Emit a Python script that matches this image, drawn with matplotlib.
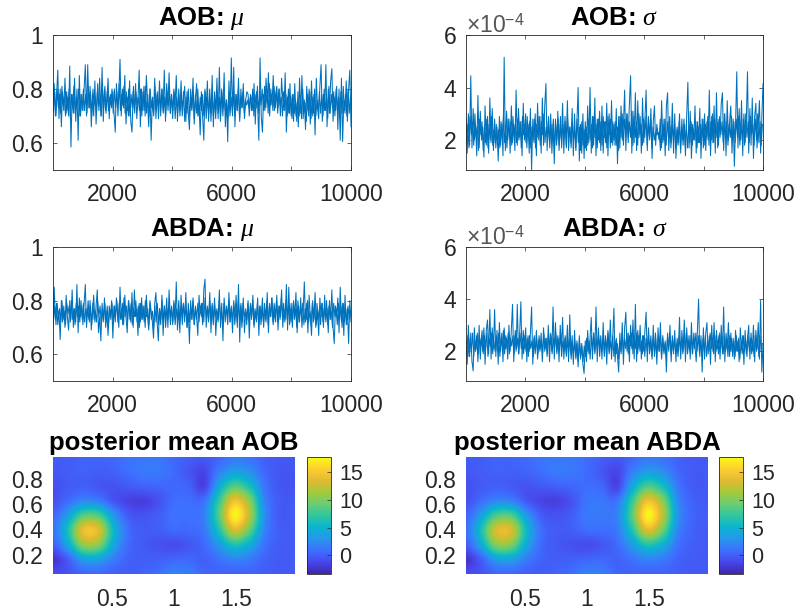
import matplotlib
matplotlib.use("Agg")
import matplotlib.pyplot as plt
import numpy as np
from matplotlib.colors import LinearSegmentedColormap

plt.rcParams["font.family"] = "Liberation Sans"
plt.rcParams["mathtext.fontset"] = "custom"
plt.rcParams["mathtext.rm"] = "Liberation Sans"
plt.rcParams["mathtext.it"] = "Liberation Serif:italic"

W, H = 797, 613

# outer swings of each trace (spikes)
aob_mu = [
    .74,.82,.70,.78,.87,.69,.80,.66,.79,.72,.84,.71,.77,.70,.885,.585,.78,.71,.84,.68,.80,.61,.85,.70,.78,
    .72,.80,.89,.70,.89,.73,.81,.66,.78,.70,.83,.67,.79,.74,.84,.70,.88,.68,.80,.72,.76,.84,.69,.78,.73,
    .79,.71,.64,.82,.74,.78,.91,.70,.80,.73,.85,.67,.77,.70,.83,.68,.64,.79,.72,.82,.69,.76,.87,.66,.80,
    .72,.81,.70,.85,.75,.66,.80,.61,.76,.71,.84,.69,.78,.73,.83,.70,.80,.72,.87,.68,.82,.74,.86,.71,.78,
    .69,.80,.74,.85,.68,.78,.72,.83,.70,.76,.81,.68,.79,.71,.65,.80,.73,.84,.67,.76,.82,.70,.74,.63,.79,
    .70,.61,.80,.73,.83,.68,.77,.71,.85,.66,.79,.72,.84,.69,.88,.70,.79,.73,.86,.66,.76,.605,.83,.72,.915,
    .70,.88,.66,.78,.72,.84,.68,.80,.73,.82,.69,.76,.79,.78,.70,.78,.76,.72,.82,.67,.79,.74,.61,.915,.70,
    .64,.78,.72,.84,.75,.86,.70,.80,.74,.85,.72,.78,.81,.73,.80,.70,.84,.76,.72,.86,.64,.77,.71,.82,.70,
    .78,.68,.82,.70,.75,.66,.84,.71,.85,.69,.76,.65,.81,.72,.80,.67,.83,.70,.78,.63,.84,.73,.69,.81,.89,
    .68,.78,.72,.89,.66,.80,.71,.83,.875,.68,.77,.72,.81,.65,.80,.61,.84,.605,.76,.71,.83,.68,.80,.87,.66,
]

# sigma traces are in units of 1e-4
aob_sigma = [
    2.8,1.5,3.0,1.8,4.45,1.7,3.2,2.0,2.6,1.4,3.7,1.7,3.1,2.0,2.5,1.35,3.3,1.8,2.9,1.5,3.6,1.9,3.2,1.6,2.8,
    1.7,2.5,1.2,2.9,1.8,2.6,1.4,5.15,1.6,3.1,2.0,2.8,1.5,3.3,1.9,2.6,1.6,3.9,1.8,3.2,2.1,2.7,1.4,3.4,2.0,
    3.0,1.7,2.6,1.5,3.2,.86,2.8,1.9,3.0,1.4,3.4,2.0,2.9,1.5,3.6,1.8,3.3,4.15,1.6,2.7,1.9,3.0,1.5,2.6,1.1,
    2.8,1.8,3.1,1.6,2.6,2.0,3.4,1.5,2.9,1.8,3.5,1.6,2.5,1.9,3.2,1.4,3.0,1.7,2.7,4.0,1.2,2.6,1.5,3.0,1.3,
    2.7,1.6,3.3,1.9,4.0,1.5,2.9,1.8,3.6,1.4,2.8,2.0,3.1,1.6,3.3,1.5,2.7,1.9,3.4,1.4,3.0,1.7,3.5,1.8,2.6,
    1.8,3.2,1.1,2.9,1.7,3.3,2.0,2.6,3.9,1.6,3.0,2.1,3.4,4.45,1.5,3.1,1.9,3.8,1.6,3.5,2.1,2.9,1.5,3.6,1.9,
    2.8,3.9,1.6,2.9,2.0,3.2,1.3,2.7,3.3,1.8,2.6,2.2,2.3,1.6,3.5,1.9,2.8,1.4,3.3,3.8,1.6,2.5,1.9,3.4,1.5,
    3.0,1.3,2.5,1.9,3.0,1.5,2.8,1.8,2.6,1.4,2.9,4.2,1.7,3.1,1.3,2.6,2.0,3.3,1.5,2.7,1.9,3.2,1.3,2.8,1.7,
    3.0,1.6,2.7,2.0,3.9,1.4,2.9,1.9,3.3,1.5,3.8,1.7,2.8,2.1,3.4,3.8,1.6,3.0,1.4,3.5,2.0,2.7,3.3,1.5,2.8,
    1.0,2.6,4.6,1.7,3.2,2.0,3.5,1.4,3.0,1.9,2.7,4.6,1.5,3.2,1.8,3.6,1.3,2.9,3.4,1.7,2.6,3.5,1.5,2.8,4.15,
]

abda_mu = [
    .70,.85,.73,.79,.71,.76,.655,.80,.72,.78,.70,.82,.74,.69,.80,.73,.84,.70,.77,.72,.86,.68,.81,.74,.78,
    .71,.79,.86,.70,.77,.73,.80,.69,.76,.82,.72,.78,.84,.68,.74,.65,.79,.72,.81,.70,.76,.67,.78,.74,.80,
    .66,.78,.72,.81,.75,.70,.85,.73,.79,.71,.82,.74,.68,.80,.76,.72,.83,.70,.84,.74,.77,.67,.79,.72,.81,
    .73,.78,.70,.82,.74,.69,.80,.76,.72,.66,.79,.83,.72,.65,.77,.71,.82,.67,.78,.73,.81,.70,.84,.74,.77,
    .71,.80,.73,.87,.69,.77,.68,.82,.74,.79,.72,.83,.70,.76,.64,.80,.73,.81,.71,.78,.74,.67,.82,.75,.79,
    .71,.84,.88,.70,.78,.73,.83,.68,.79,.72,.81,.67,.76,.73,.84,.70,.79,.65,.81,.74,.77,.71,.83,.72,.78,
    .68,.80,.74,.82,.70,.86,.645,.79,.72,.81,.68,.77,.73,.80,.66,.79,.74,.82,.70,.76,.72,.81,.67,.78,.74,
    .81,.70,.77,.72,.83,.68,.79,.74,.81,.71,.76,.72,.82,.69,.78,.74,.84,.70,.77,.73,.86,.69,.85,.72,.79,
    .70,.80,.74,.83,.68,.78,.72,.81,.70,.76,.87,.72,.79,.68,.82,.74,.67,.80,.73,.83,.71,.76,.67,.81,.74,
    .79,.70,.82,.72,.77,.68,.80,.73,.84,.70,.64,.78,.74,.81,.68,.85,.72,.79,.67,.82,.71,.77,.64,.80,.72,
]

abda_sigma = [
    2.4,1.5,3.0,1.8,2.7,1.6,1.25,2.9,2.0,2.6,1.6,3.0,1.7,2.6,2.0,2.9,1.5,2.8,3.2,1.9,3.6,1.7,2.9,2.1,3.6,
    1.8,2.8,1.5,3.1,2.0,2.7,1.6,2.9,2.1,2.5,1.7,3.0,2.0,2.8,3.8,1.6,2.6,2.0,3.8,1.9,2.7,3.9,1.7,2.8,2.1,
    2.9,1.6,2.6,2.0,2.7,3.7,1.5,2.5,1.9,2.8,1.7,2.4,2.0,2.7,1.6,2.9,2.0,2.5,1.8,3.0,1.6,2.7,2.0,3.7,1.7,
    3.1,2.0,2.6,1.6,3.0,2.1,3.3,1.7,2.5,1.9,3.0,1.6,3.4,1.9,2.6,1.5,2.8,1.8,2.4,1.4,2.6,1.7,2.3,1.5,1.15,
    2.4,1.6,2.8,1.9,2.5,3.3,1.7,2.7,2.0,3.7,1.6,2.9,2.1,2.6,1.7,3.1,1.9,2.6,1.5,2.8,2.0,3.2,1.7,2.5,3.65,
    1.6,2.5,1.8,1.2,2.7,1.9,3.1,1.5,2.9,3.5,2.0,2.7,1.6,3.0,2.1,3.2,1.7,3.8,1.6,2.8,2.1,3.0,1.7,2.6,2.0,
    2.8,3.5,1.6,2.9,2.0,2.6,1.7,3.0,1.8,2.5,1.5,2.9,2.0,3.1,1.7,2.6,1.9,2.4,1.2,2.7,2.0,3.0,1.6,2.6,1.9,
    2.8,1.6,2.5,2.0,3.3,1.7,2.8,2.0,3.2,1.6,2.9,2.1,2.6,1.7,3.1,1.9,2.7,2.2,1.6,2.8,4.0,1.8,2.6,1.2,2.9,
    1.7,2.7,3.1,1.9,2.6,1.5,3.0,2.0,3.1,1.6,2.8,2.1,2.6,1.7,3.0,1.9,3.7,1.6,2.7,2.1,3.1,1.8,2.7,2.0,2.5,
    1.7,2.8,2.0,2.4,1.6,2.9,2.1,2.6,1.5,2.8,1.9,2.5,3.0,1.7,2.7,2.0,3.0,1.6,2.8,2.1,3.1,1.7,3.95,1.2,2.2,
]

# solid middle of each trace
aob_mu_core = [
    .72,.79,.70,.80,.73,.78,.71,.81,.74,.77,.70,.79,.72,.80,.69,.78,.73,.81,.71,.77,.74,.80,.70,.78,.72,
    .80,.72,.78,.71,.81,.73,.79,.70,.80,.74,.77,.71,.82,.72,.78,.70,.80,.73,.81,.71,.79,.72,.77,.74,.80,
    .71,.80,.73,.79,.70,.82,.72,.78,.74,.81,.71,.79,.72,.80,.70,.78,.73,.81,.71,.79,.74,.77,.72,.80,.70,
    .79,.72,.81,.71,.78,.70,.80,.73,.77,.70,.81,.72,.79,.69,.78,.73,.80,.71,.77,.70,.79,.72,.80,.71,.78,
    .72,.79,.69,.77,.71,.80,.70,.78,.72,.79,.68,.77,.71,.80,.70,.76,.72,.79,.69,.78,.71,.80,.70,.77,.72,
    .78,.70,.79,.69,.77,.71,.80,.68,.78,.70,.76,.69,.79,.71,.77,.68,.80,.70,.78,.72,.76,.69,.79,.70,.77,
    .71,.79,.70,.78,.72,.80,.69,.77,.73,.79,.71,.76,.74,.76,.73,.77,.72,.80,.70,.78,.73,.81,.71,.79,.74,
    .80,.72,.81,.73,.79,.71,.82,.74,.78,.72,.81,.73,.79,.71,.80,.74,.77,.70,.79,.72,.78,.70,.80,.71,.77,
    .69,.78,.71,.76,.68,.79,.70,.77,.69,.80,.71,.75,.68,.78,.70,.79,.69,.77,.71,.80,.70,.76,.72,.79,.71,
    .78,.70,.80,.72,.77,.69,.81,.71,.78,.73,.79,.70,.80,.72,.77,.69,.79,.71,.81,.72,.78,.70,.80,.71,.77,
]

abda_mu_core = [
    .73,.78,.71,.79,.74,.77,.72,.80,.73,.76,.71,.79,.75,.78,.72,.80,.73,.77,.71,.79,.74,.78,.72,.80,.73,
    .79,.72,.77,.74,.80,.72,.78,.71,.79,.73,.76,.72,.80,.74,.78,.71,.77,.73,.79,.72,.78,.70,.77,.73,.79,
    .71,.78,.74,.80,.72,.79,.73,.77,.71,.81,.74,.78,.72,.80,.73,.79,.71,.77,.74,.80,.72,.78,.70,.79,.73,
    .78,.72,.80,.74,.77,.71,.79,.73,.76,.70,.78,.72,.79,.71,.77,.73,.80,.72,.78,.70,.77,.73,.79,.71,.78,
    .72,.79,.71,.77,.73,.80,.72,.78,.71,.79,.74,.77,.70,.79,.72,.78,.73,.80,.71,.77,.73,.79,.72,.78,.74,
    .79,.72,.81,.74,.77,.72,.80,.73,.78,.71,.79,.74,.77,.72,.80,.73,.76,.71,.79,.72,.78,.74,.80,.72,.77,
    .73,.79,.71,.77,.72,.80,.73,.78,.70,.79,.74,.76,.71,.79,.72,.78,.73,.80,.71,.77,.73,.79,.72,.78,.71,
    .77,.72,.79,.73,.80,.71,.78,.74,.81,.72,.79,.74,.80,.72,.78,.73,.81,.74,.79,.72,.80,.73,.78,.71,.77,
    .72,.79,.73,.77,.70,.80,.72,.78,.74,.79,.71,.77,.73,.80,.72,.76,.71,.79,.72,.78,.70,.79,.73,.77,.71,
    .79,.72,.77,.73,.80,.71,.78,.73,.76,.70,.79,.74,.77,.71,.79,.73,.78,.70,.79,.72,.77,.71,.78,.73,.76,
]

aob_sigma_core = [
    2.0,2.6,1.7,2.9,2.2,2.7,1.8,3.0,2.1,2.5,1.6,2.8,2.2,2.7,1.6,2.5,1.9,2.8,1.7,2.6,2.0,2.9,1.8,2.4,1.9,
    2.6,1.8,2.4,1.7,2.7,2.1,2.9,1.9,2.5,1.7,2.8,2.1,2.7,1.8,2.9,2.2,2.6,1.9,2.8,2.0,2.7,1.7,2.9,2.2,2.6,
    1.9,2.9,2.1,2.7,1.7,2.5,2.0,2.8,1.7,2.6,2.1,2.9,1.8,2.7,2.2,3.0,1.9,2.5,2.1,2.9,1.7,2.6,2.0,2.8,1.7,
    2.6,2.0,2.8,1.8,2.9,1.7,2.6,2.1,2.7,1.7,2.8,2.1,2.5,1.7,2.7,2.0,2.4,1.6,2.8,1.9,2.5,1.6,2.7,1.8,2.4,
    1.7,2.5,1.8,2.8,2.0,2.6,1.7,2.9,2.1,2.6,1.7,2.8,1.9,2.7,1.8,2.9,2.1,2.7,1.7,2.9,2.2,2.8,1.9,2.7,2.0,
    2.7,1.8,2.5,1.6,2.9,2.1,3.0,1.8,2.8,2.2,3.0,1.9,2.7,2.1,3.1,1.8,2.9,2.1,2.7,1.8,3.0,2.2,2.6,1.8,2.8,
    2.1,2.9,1.8,2.6,2.1,2.8,1.7,2.5,2.0,2.3,2.2,2.3,2.0,2.8,1.7,2.6,2.0,2.8,1.8,2.7,2.1,2.9,1.7,2.6,2.0,
    2.6,1.7,2.4,1.8,2.7,1.7,2.5,2.0,2.8,1.8,2.6,1.7,2.5,1.9,2.7,1.8,2.4,2.0,2.7,1.7,2.5,1.9,2.6,2.1,2.8,
    1.8,2.6,2.1,2.9,1.8,2.7,2.0,3.0,1.9,2.8,2.1,2.7,1.8,2.9,2.2,2.7,1.9,3.0,2.0,2.7,1.8,2.6,2.1,2.9,2.0,
    2.7,1.9,2.8,2.1,2.9,1.8,2.6,2.0,2.8,1.8,3.0,2.1,2.7,1.9,2.9,2.2,2.6,1.8,2.8,2.0,3.0,1.9,2.7,1.8,2.6,
]

abda_sigma_core = [
    1.9,2.6,1.8,2.5,2.0,2.7,1.8,2.4,2.1,2.7,1.9,2.5,2.2,2.8,1.9,2.6,2.1,2.7,1.8,2.5,2.2,2.7,1.9,2.4,2.0,
    2.6,2.0,2.7,1.8,2.5,2.2,2.8,1.9,2.6,2.1,2.7,1.9,2.5,2.2,2.6,1.9,2.8,2.1,2.5,1.9,2.7,2.1,2.5,1.9,2.6,
    2.0,2.5,1.8,2.6,2.1,2.4,1.8,2.6,2.0,2.5,1.9,2.6,2.1,2.4,1.9,2.7,2.1,2.5,1.9,2.7,2.2,2.6,1.9,2.5,2.1,
    2.7,1.9,2.5,2.1,2.6,1.8,2.4,2.0,2.6,1.8,2.4,2.0,2.5,1.7,2.3,1.9,2.4,1.7,2.3,1.6,2.4,1.8,2.2,1.6,2.2,
    1.8,2.5,2.0,2.4,1.7,2.6,2.0,2.7,1.9,2.5,2.1,2.6,1.8,2.4,2.0,2.6,1.8,2.5,2.1,2.7,1.9,2.4,2.0,2.6,1.8,
    2.4,1.9,2.3,1.7,2.4,2.0,2.7,1.9,2.5,2.1,2.7,1.9,2.6,2.2,2.7,1.9,2.6,2.1,2.7,1.9,2.6,2.0,2.4,1.9,2.6,
    1.8,2.5,2.0,2.6,1.9,2.4,1.8,2.5,2.0,2.7,1.9,2.4,2.0,2.6,1.8,2.5,2.0,2.3,1.8,2.5,2.1,2.7,1.9,2.4,2.0,
    2.5,1.9,2.3,1.8,2.6,2.0,2.5,1.9,2.6,2.1,2.7,1.9,2.4,2.0,2.6,1.9,2.5,2.1,2.7,2.0,2.6,1.9,2.4,1.9,2.5,
    2.0,2.6,1.8,2.4,2.0,2.7,2.1,2.5,1.9,2.6,2.0,2.4,1.9,2.7,2.1,2.5,1.9,2.6,2.0,2.4,1.8,2.6,2.0,2.5,1.8,
    2.4,1.8,2.6,2.0,2.5,1.7,2.3,1.9,2.6,2.0,2.4,1.8,2.6,2.0,2.5,1.9,2.4,1.8,2.6,2.0,2.5,1.8,2.6,2.0,2.3,
]

# posterior mean read on a coarse grid, top row first
grid_x = [.03, .15, .27, .39, .515, .64, .76, .88, 1.0, 1.12, 1.24, 1.36, 1.485, 1.6, 1.73, 1.85, 1.97]
grid_y = [.97, .855, .74, .625, .51, .395, .28, .165, .05]

mean_aob = [
    [-.2, 0, .3, .3, .5, 1, 1.3, 1.2, .6, 0, -.3, .43, 1.35, 1.1, .1, -.3, -.3],
    [-.4, -.1, .2, 0, .2, .9, 1.4, 1.4, .6, -.5, -1.3, 1.7, 3.6, 2.7, .5, -.4, -.5],
    [-.8, -.2, .05, -.35, -.6, -.2, .2, .4, .5, .2, -1.5, 4.4, 8.5, 6.1, 1.2, -.4, -.5],
    [-.74, .75, 2.2, 1.8, -.4, -1.5, -1.7, -.7, .8, .8, 1.1, 7.5, 14.6, 10.5, 2.1, -.2, -.3],
    [.3, 3.7, 8.6, 8.4, 3.2, -.15, -.6, 0, 1, .9, 1.9, 8.7, 17.5, 12, 2.6, -.2, 0],
    [.9, 6.2, 14.1, 13.6, 5.4, .8, -.2, 0, .6, .6, 1.4, 6.5, 13.3, 9.1, 2, 0, -.2],
    [-.1, 4.3, 10.7, 10.3, 4.2, .6, -.3, -.7, -1, -.4, .6, 3.3, 6.4, 4.6, 1, -.1, -.2],
    [-2.4, 0, 3.6, 3.8, 1.6, .2, 0, .1, .4, .5, .1, 1.1, 2, 1.5, .3, -.3, -.2],
    [-.9, -.5, .4, .5, .1, 0, .3, .8, 1.8, 1.6, .4, .25, .2, .3, 0, -.3, -.2],
]

mean_abda = [
    [-.2, 0, .3, .3, .6, 1.1, 1.4, 1.2, .7, .1, -.3, .43, 1.3, 1.1, .2, -.2, -.3],
    [-.4, -.1, .2, .1, .3, .9, 1.4, 1.3, .7, -.4, -1.3, 1.7, 3.4, 2.6, .6, -.2, -.3],
    [-.7, -.2, .1, -.2, -.6, -.3, .1, .4, .8, .4, -1.4, 4.2, 8.2, 6, 1.4, -.2, -.3],
    [-.7, .75, 2.2, 1.9, -.3, -1.4, -1.6, -.6, 1.2, 1.3, 1.2, 7.4, 14.4, 10.6, 2.4, .2, -.2],
    [.3, 3.7, 8.2, 8.4, 3.3, -.1, -.6, 0, 1.4, 1.4, 2, 8.7, 17.5, 12.3, 3, .4, 0],
    [.9, 6.1, 13.2, 13.2, 5.5, .8, -.2, 0, .8, .9, 1.5, 6.6, 13.6, 9.5, 2.2, .2, -.2],
    [-.1, 4.2, 10.3, 10, 4.2, .6, -.3, -.7, -1, -.4, .7, 3.4, 6.6, 4.8, 1.1, 0, -.2],
    [-2.4, 0, 3.5, 3.7, 1.6, .2, 0, .1, .4, .5, .2, 1.1, 2, 1.5, .3, -.2, -.2],
    [-.9, -.5, .4, .5, .1, 0, .3, .8, 1.8, 1.6, .4, .25, .2, .3, 0, -.3, -.2],
]

parula_colors = ["#3e26a8", "#4847eb", "#3e6fff", "#2796eb", "#08b5d0", "#31c69f",
                 "#6bcd73", "#a5c93a", "#e1ba32", "#fccf30", "#f9fb15"]
parula = LinearSegmentedColormap.from_list("parula", parula_colors)

TEXT = "#262626"
LINE = "#0072BD"

fig = plt.figure(figsize=(W / 100, H / 100), dpi=100)


def box(x0, y0, x1, y1):
    return fig.add_axes([x0 / W, 1 - y1 / H, (x1 - x0) / W, (y1 - y0) / H])


def trace(pos, values, core, title, ylim, yticks, title_pad, exponent=False):
    ax = box(*pos)
    ax.plot(np.linspace(0, 10000, len(values)), values, color=LINE, linewidth=0.75)
    ax.plot(np.linspace(20, 9980, len(core)), core, color=LINE, linewidth=0.75)
    ax.set_xlim(0, 10000)
    ax.set_ylim(*ylim)
    ax.set_xticks([2000, 4000, 6000, 8000, 10000])
    ax.set_xticklabels(["2000", "", "6000", "", "10000"])
    ax.set_yticks(yticks)
    ax.set_yticklabels([f"{t:g}" for t in yticks])
    ax.tick_params(direction="in", top=True, right=True, length=3, width=0.5, color=TEXT,
                   labelsize=16.5, labelcolor=TEXT)
    ax.tick_params(axis="x", pad=9.5)
    ax.tick_params(axis="y", pad=7)
    for s in ax.spines.values():
        s.set_linewidth(0.6)
        s.set_color(TEXT)
    ax.set_title(title, fontsize=18.5, fontweight="bold", pad=title_pad)
    if exponent:
        ax.text(0.0, 0.975, r"$\times 10^{-4}$", transform=ax.transAxes, fontsize=16.5,
                color="#555555", ha="left", va="bottom")
    return ax


def heat(pos, cpos, values, title):
    ax = box(*pos)
    dx = (grid_x[-1] - grid_x[0]) / (len(grid_x) - 1) / 2
    dy = (grid_y[0] - grid_y[-1]) / (len(grid_y) - 1) / 2
    extent = [grid_x[0] - dx, grid_x[-1] + dx, grid_y[-1] - dy, grid_y[0] + dy]
    im = ax.imshow(values, cmap=parula, vmin=-3.4, vmax=17.8, extent=extent,
                   interpolation="catrom", aspect="auto")
    ax.set_xlim(grid_x[0], grid_x[-1])
    ax.set_ylim(grid_y[-1], grid_y[0])
    ax.set_xticks([0.5, 1, 1.5])
    ax.set_xticklabels(["0.5", "1", "1.5"])
    ax.set_yticks([0.2, 0.4, 0.6, 0.8])
    ax.tick_params(length=0, labelsize=16.5, labelcolor=TEXT)
    ax.tick_params(axis="x", pad=10)
    ax.tick_params(axis="y", pad=7)
    for s in ax.spines.values():
        s.set_visible(False)
    ax.set_title(title, fontsize=18.5, fontweight="bold", pad=5)

    cax = box(*cpos)
    cb = fig.colorbar(im, cax=cax, ticks=[0, 5, 10, 15])
    cb.ax.tick_params(direction="in", length=3, width=0.5, color=TEXT, labelsize=15.5,
                      labelcolor=TEXT, pad=6)
    cb.outline.set_linewidth(0.6)
    cb.outline.set_edgecolor(TEXT)


MU_LIM = (0.5, 1)
MU_TICKS = [0.6, 0.8, 1]
SIG_LIM = (0.86, 6)
SIG_TICKS = [2, 4, 6]

trace((53, 35, 351, 170), aob_mu, aob_mu_core, r"AOB: $\mu$", MU_LIM, MU_TICKS, 7)
trace((466, 35, 763, 170), aob_sigma, aob_sigma_core, r"AOB: $\sigma$", SIG_LIM, SIG_TICKS, 7, exponent=True)
trace((53, 247, 351, 381), abda_mu, abda_mu_core, r"ABDA: $\mu$", MU_LIM, MU_TICKS, 8)
trace((466, 247, 763, 381), abda_sigma, abda_sigma_core, r"ABDA: $\sigma$", SIG_LIM, SIG_TICKS, 8, exponent=True)

heat((53, 457, 295, 574), (306.5, 457, 331, 574), mean_aob, "posterior mean AOB")
heat((466, 457, 708, 574), (719, 457, 743, 574), mean_abda, "posterior mean ABDA")

fig.savefig("out.png", dpi=100)
